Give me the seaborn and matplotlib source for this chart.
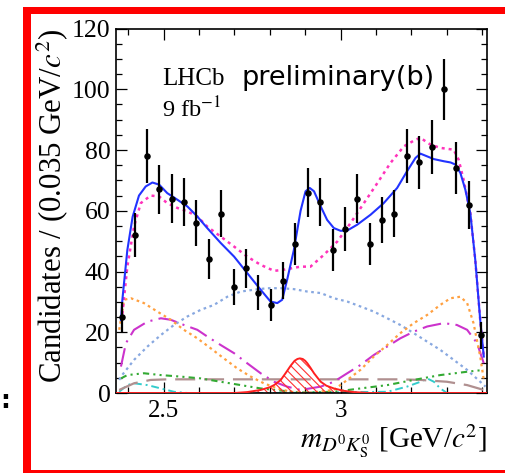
import numpy as np
import pandas as pd
import matplotlib
matplotlib.use("Agg")
import matplotlib.pyplot as plt
from matplotlib.patches import Rectangle
from matplotlib.ticker import MultipleLocator
import seaborn as sns

# ---------------- data ----------------
bin_centers = [2.3825, 2.4175, 2.4525, 2.4875, 2.5225, 2.5575, 2.5925, 2.6275,
               2.6625, 2.6975, 2.7325, 2.7675, 2.8025, 2.8375, 2.8725, 2.9075,
               2.9425, 2.9775, 3.0125, 3.0475, 3.0825, 3.1175, 3.1525, 3.1875,
               3.2225, 3.2575, 3.2925, 3.3275, 3.3625, 3.3975]
counts = [25, 52, 78, 67, 64, 63, 56, 44, 59, 35, 41, 33, 29, 37, 49, 66,
          63, 47, 54, 64, 49, 57, 59, 78, 76, 81, 100, 74, 62, 19]
count_err = [5.0, 7.2, 8.8, 8.2, 8.0, 7.9, 7.5, 6.6, 7.7, 5.9, 6.4, 5.7, 5.4, 6.1, 7.0, 8.1,
             7.9, 6.9, 7.3, 8.0, 7.0, 7.5, 7.7, 8.8, 8.7, 9.0, 10.0, 8.6, 7.9, 4.4]

total_x = [2.379, 2.383, 2.397, 2.412, 2.430, 2.449, 2.468, 2.487, 2.510, 2.539, 2.567, 2.595,
           2.623, 2.661, 2.699, 2.736, 2.774, 2.802, 2.821, 2.835, 2.849, 2.868, 2.887,
           2.901, 2.913, 2.925, 2.944, 2.962, 2.981, 3.000, 3.019, 3.047, 3.085, 3.122,
           3.160, 3.188, 3.212, 3.226, 3.245, 3.264, 3.292, 3.311, 3.325, 3.339, 3.353,
           3.367, 3.381, 3.395, 3.405]
total_y = [24, 30.7, 47, 58, 65, 68, 69.3, 68.6, 65.8, 63.6, 61.4, 58.1,
           54.3, 49.4, 44.9, 39.5, 34, 30.1, 29.6, 30.7, 37.3, 47.1, 60,
           66.4, 67.5, 66.4, 61.4, 57, 54.3, 53.4, 53.5, 55.4, 58.7, 62.5,
           67.5, 73, 77.4, 78.8, 77.9, 77, 76.3, 75.9, 75.2, 72.4, 66.9,
           59.2, 43.8, 24, 12]

alt_x = [2.383, 2.397, 2.416, 2.435, 2.463, 2.487, 2.510, 2.539, 2.567, 2.595, 2.623, 2.661,
         2.699, 2.736, 2.774, 2.812, 2.840, 2.887, 2.915, 2.953, 2.991, 3.028, 3.066,
         3.104, 3.141, 3.179, 3.212, 3.226, 3.254, 3.282, 3.320, 3.334, 3.348, 3.367,
         3.381, 3.395, 3.405]
alt_y = [26, 41.6, 54.8, 62.5, 65, 64.7, 62.5, 60.9, 59.8, 58.1, 54.8, 51.5,
         48.2, 44.9, 42.2, 40.2, 40.6, 41.6, 41.6, 45.5, 49.9, 55.9, 62.5,
         69.1, 75.7, 81.2, 83.4, 84, 81.8, 80.7, 80.1, 76.8, 70.2, 59.2,
         43.8, 24, 12]

orange_x = [2.374, 2.388, 2.407, 2.444, 2.482, 2.520, 2.557, 2.595, 2.633, 2.670, 2.708,
            2.746, 2.783, 2.821, 2.859, 2.906, 2.981, 3.019, 3.056, 3.094, 3.132, 3.169,
            3.207, 3.245, 3.282, 3.311, 3.339, 3.358, 3.376, 3.395, 3.405]
orange_y = [20.8, 30.7, 31.2, 29.6, 26.8, 24.1, 20.8, 18, 14.7, 11.4, 8.1,
            5.4, 3.2, 1.5, 0.4, 0, 1, 4.3, 7.6, 12, 15.8, 19.7,
            23, 25.7, 29, 31.2, 31.7, 29.6, 23, 12, 4.3]

magenta_x = [2.379, 2.393, 2.416, 2.454, 2.492, 2.520, 2.557, 2.595, 2.623, 2.661, 2.699,
             2.736, 2.774, 2.812, 2.849, 2.887, 2.944, 2.981, 3.019, 3.056, 3.094, 3.132,
             3.169, 3.207, 3.245, 3.292, 3.329, 3.358, 3.386, 3.405]
magenta_y = [8.7, 16.4, 20.8, 23.5, 24.6, 24.1, 22.4, 20.8, 18.6, 15.8, 13.1,
             9.8, 6.5, 3.7, 2.1, 1, 2.1, 3.7, 6.5, 9.2, 12.5, 15.3,
             18, 20.2, 21.9, 23, 22.4, 20.8, 16.4, 9.8]

lblue_x = [2.374, 2.379, 2.416, 2.454, 2.492, 2.529, 2.567, 2.605, 2.642, 2.680, 2.718,
           2.755, 2.793, 2.831, 2.868, 2.906, 2.944, 2.981, 3.019, 3.056, 3.094, 3.132,
           3.169, 3.207, 3.245, 3.282, 3.320, 3.358, 3.395, 3.410]
lblue_y = [4.3, 5.4, 10.9, 15.3, 19.1, 22.4, 25.2, 27.4, 29, 31.7, 33.4,
           34, 34.5, 34.5, 34.2, 33.4, 32.9, 31.2, 30.1, 28.5, 26.8, 24.6,
           22.4, 19.7, 16.9, 14.2, 10.9, 7.6, 3.7, 2.1]

green_x = [2.379, 2.397, 2.444, 2.492, 2.548, 2.605, 2.661, 2.718, 2.774, 2.831, 2.887,
           2.981, 3.056, 3.132, 3.207, 3.282, 3.358, 3.405]
green_y = [4.8, 5.9, 6.5, 5.9, 5.4, 4.8, 3.7, 2.6, 1.5, 0.8, 0.1,
           0.4, 1.5, 2.6, 4.3, 5.9, 7.0, 7.6]

brown_x = [2.374, 2.416, 2.463, 2.510, 2.700, 2.900, 3.100, 3.169, 3.226, 3.301, 3.358, 3.405]
brown_y = [1.0, 3.2, 4.3, 4.5, 4.5, 4.5, 4.5, 4.5, 4.3, 3.7, 2.6, 1.0]

cyan_x = [2.374, 2.397, 2.416, 2.454, 2.492, 2.529, 2.567, 2.800, 3.132, 3.188, 3.226,
          3.245, 3.264, 3.282, 3.301, 3.405]
cyan_y = [0.4, 2.6, 3.2, 2.6, 1.5, 0.4, 0, 0, 0.4, 2.1, 3.7,
          4.8, 3.7, 1.5, 0, 0]

signal_x = [2.365, 2.700, 2.736, 2.774, 2.800, 2.812, 2.831, 2.845, 2.859, 2.870, 2.878,
            2.885, 2.893, 2.900, 2.906, 2.915, 2.925, 2.935, 2.944, 2.960, 2.981, 3.010,
            3.038, 3.080, 3.415]
signal_y = [0, 0, 0.3, 1.0, 1.9, 2.6, 4.3, 6.6, 9.0, 10.6, 11.2,
            11.4, 11.2, 10.6, 9.8, 8.3, 6.5, 5.0, 3.7, 2.4, 1.5, 0.7,
            0.3, 0, 0]

x_major = [2.5, 3.0]
x_tick_labels = ["2.5", "3"]
y_major = [0, 20, 40, 60, 80, 100, 120]

# ---------------- style ----------------
plt.rcParams["font.family"] = ["Liberation Serif", "DejaVu Serif"]
plt.rcParams["mathtext.fontset"] = "stix"
plt.rcParams["hatch.linewidth"] = 0.8

W, H = 506, 473
fig = plt.figure(figsize=(W / 100, H / 100), dpi=100)
ax = fig.add_axes([116 / W, 1 - 393 / H, (487.3 - 116) / W, (393 - 28.5) / H])


def line(xs, ys, color, ls, lw=1.5, z=2):
    df = pd.DataFrame({"x": xs, "y": ys})
    sns.lineplot(data=df, x="x", y="y", ax=ax, color=color, linestyle=ls,
                 linewidth=lw, sort=False, estimator=None, zorder=z)


line(cyan_x, cyan_y, "#33cccc", (0, (4, 2, 1, 2)), 1.4)
line(brown_x, brown_y, "#b09090", (0, (9, 4)), 1.6)
line(green_x, green_y, "#33aa33", (0, (3, 2, 1, 2, 1, 2)), 1.5)
line(lblue_x, lblue_y, "#88a8e0", (0, (1.2, 1.6)), 1.6)
line(magenta_x, magenta_y, "#cc33cc", (0, (9, 3, 1, 3)), 1.5)
line(orange_x, orange_y, "#ffa040", (0, (1.2, 1.6)), 1.6)
# signal peak with hatch
ax.fill_between(signal_x, 0, signal_y, facecolor="none", edgecolor="#ff3030",
                hatch="\\\\\\\\", linewidth=0, zorder=2)
line(signal_x, signal_y, "#ff2020", "-", 1.4, 3)
line(alt_x, alt_y, "#ff33bb", (0, (1.2, 1.6)), 1.8, 4)
line(total_x, total_y, "#2233ff", "-", 1.5, 5)

ax.errorbar(bin_centers, counts, yerr=count_err, fmt="none", ecolor="black",
            elinewidth=1.6, capsize=0, zorder=6)
sns.scatterplot(x=bin_centers, y=counts, ax=ax, color="black", s=22,
                edgecolor="black", linewidth=0, zorder=7)

ax.set_xlim(2.365, 3.415)
ax.set_ylim(0, 120)
ax.set_xticks(x_major)
ax.set_xticklabels(x_tick_labels)
ax.set_yticks(y_major)
ax.xaxis.set_minor_locator(MultipleLocator(0.1))
ax.yaxis.set_minor_locator(MultipleLocator(5))
ax.tick_params(which="both", direction="in", top=True, right=True, width=0.9,
               labelsize=18.5, colors="black")
ax.tick_params(axis="x", labelsize=18)
ax.tick_params(which="major", length=8)
ax.tick_params(which="minor", length=4.3)
ax.tick_params(axis="x", pad=5)
ax.tick_params(axis="y", pad=4)
for s in ax.spines.values():
    s.set_linewidth(1.2)

ax.set_xlabel(r"$m_{D^0K^0_{\rm S}}$ [GeV/$c^2$]", fontsize=21, loc="right", labelpad=1)
ax.set_ylabel(r"Candidates / (0.035 GeV/$c^2$)", fontsize=22.2, loc="top", labelpad=1)

ax.text((162 - 116) / 371.3, (393 - 85) / 364.5, "LHCb", transform=ax.transAxes,
        fontsize=18, va="baseline", ha="left")
ax.text((242 - 116) / 371.3, (393 - 85) / 364.5, "preliminary(b)", transform=ax.transAxes,
        fontsize=19.5, va="baseline", ha="left", family="DejaVu Sans")
ax.text((162 - 116) / 371.3, (393 - 117) / 364.5, r"9 fb$^{-1}$", transform=ax.transAxes,
        fontsize=17.5, va="baseline", ha="left")

# red frame
red = "#ff0000"
fig.patches.append(Rectangle((23 / W, 0), 8.5 / W, 1 - 7 / H, transform=fig.transFigure,
                             facecolor=red, edgecolor="none", zorder=10))
fig.patches.append(Rectangle((23 / W, 1 - 14.5 / H), 1, 7.5 / H, transform=fig.transFigure,
                             facecolor=red, edgecolor="none", zorder=10))
fig.patches.append(Rectangle((23 / W, 0), 1, 3.2 / H, transform=fig.transFigure,
                             facecolor=red, edgecolor="none", zorder=10))
fig.text(0.0, 1 - 401 / H, ":", fontsize=18, fontweight="bold", va="center", ha="left",
         family="DejaVu Sans")

fig.savefig("out.png", dpi=100)
